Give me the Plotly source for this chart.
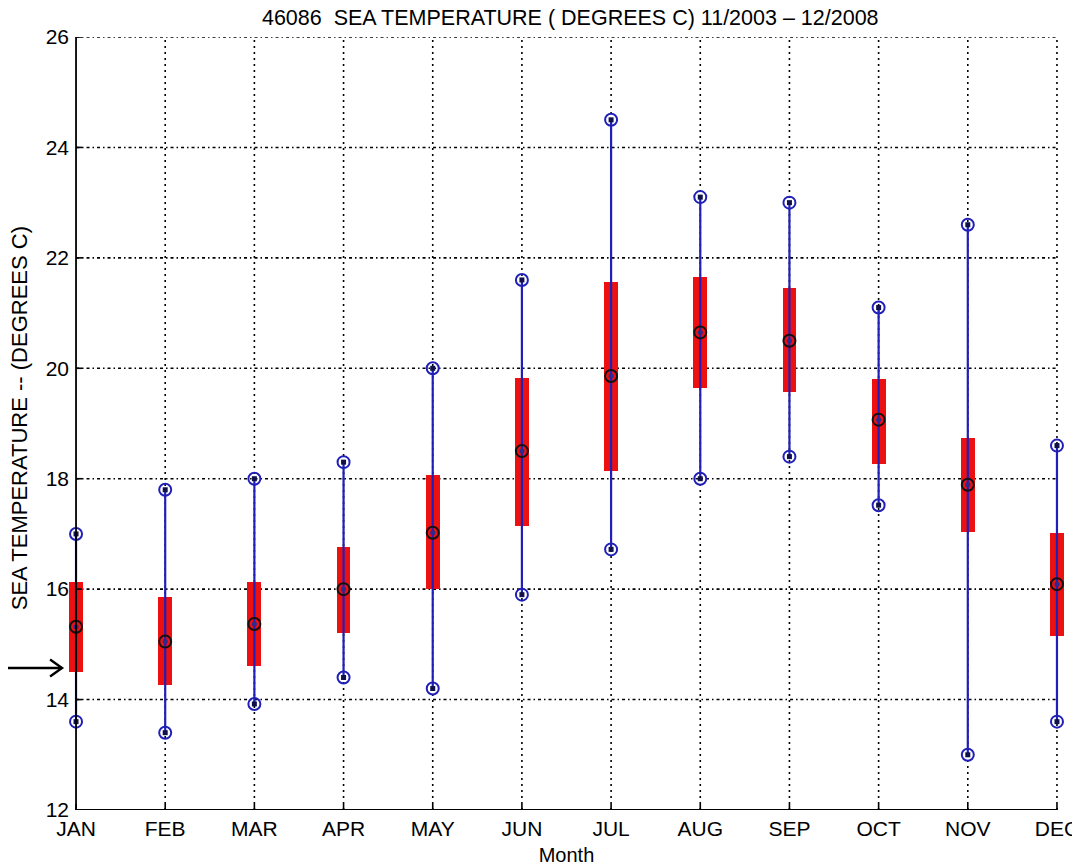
import plotly.graph_objects as go

months = ["JAN", "FEB", "MAR", "APR", "MAY", "JUN", "JUL", "AUG", "SEP", "OCT", "NOV", "DEC"]
max_vals = [17.0, 17.8, 18.0, 18.3, 20.0, 21.6, 24.5, 23.1, 23.0, 21.1, 22.6, 18.6]
q3_vals = [16.13, 15.86, 16.13, 16.76, 18.06, 19.82, 21.56, 21.65, 21.45, 19.81, 18.73, 17.01]
median_vals = [15.32, 15.05, 15.37, 16.0, 17.02, 18.5, 19.86, 20.65, 20.5, 19.07, 17.89, 16.09]
q1_vals = [14.5, 14.26, 14.6, 15.2, 16.0, 17.15, 18.14, 19.64, 19.57, 18.26, 17.04, 15.15]
min_vals = [13.6, 13.4, 13.92, 14.4, 14.2, 15.9, 16.72, 18.0, 18.4, 17.52, 13.0, 13.6]
y_ticks = [12, 14, 16, 18, 20, 22, 24, 26]

idx = list(range(len(months)))
BLUE = "#2020b8"
RED = "#ec1010"
FONT = "Liberation Sans, Arial, sans-serif"

fig = go.Figure()

# red boxes (q1..q3)
fig.add_trace(go.Bar(
    x=idx, y=[h - l for h, l in zip(q3_vals, q1_vals)], base=q1_vals,
    width=0.155, marker=dict(color=RED, line=dict(width=0)), showlegend=False,
    hoverinfo="skip"))

# blue whiskers min..max
wx, wy = [], []
for i, lo, hi in zip(idx, min_vals, max_vals):
    wx += [i, i, None]
    wy += [lo, hi, None]
fig.add_trace(go.Scatter(x=wx, y=wy, mode="lines",
                         line=dict(color=BLUE, width=2.2), showlegend=False,
                         hoverinfo="skip"))

# extreme markers
ex = idx + idx
ey = min_vals + max_vals
fig.add_trace(go.Scatter(x=ex, y=ey, mode="markers", cliponaxis=False,
                         marker=dict(symbol="circle-open", size=12, color=BLUE,
                                     line=dict(width=2, color=BLUE)),
                         showlegend=False))
fig.add_trace(go.Scatter(x=ex, y=ey, mode="markers", cliponaxis=False,
                         marker=dict(symbol="square", size=5, color="#10104a"),
                         showlegend=False))
# median markers
fig.add_trace(go.Scatter(x=idx, y=median_vals, mode="markers", cliponaxis=False,
                         marker=dict(symbol="circle-open", size=12, color="#111111",
                                     line=dict(width=2, color="#111111")),
                         showlegend=False))
fig.add_trace(go.Scatter(x=idx, y=median_vals, mode="markers", cliponaxis=False,
                         marker=dict(symbol="circle", size=5, color="#2a2a90"),
                         showlegend=False))

shapes = []
x0, x1 = idx[0], idx[-1]
y0, y1 = y_ticks[0], y_ticks[-1]
# horizontal grid (dash-dot)
for v in y_ticks[1:]:
    shapes.append(dict(type="line", xref="x", yref="y", x0=x0, x1=x1, y0=v, y1=v,
                       line=dict(color="black", width=1.6, dash="3px,3px,1.5px,3px"),
                       layer="below"))
# vertical grid (dotted)
for i in idx[1:]:
    shapes.append(dict(type="line", xref="x", yref="y", x0=i, x1=i, y0=y0, y1=y1,
                       line=dict(color="black", width=1.6, dash="2px,4px"),
                       layer="below"))
# solid axes
shapes.append(dict(type="line", xref="x", yref="y", x0=x0, x1=x0, y0=y0, y1=y1,
                   line=dict(color="black", width=1.8)))
shapes.append(dict(type="line", xref="x", yref="y", x0=x0, x1=x1, y0=y0, y1=y0,
                   line=dict(color="black", width=1.8)))
# tick marks (inward)
for v in y_ticks:
    shapes.append(dict(type="line", xref="x", yref="y", xsizemode="pixel", xanchor=x0,
                       x0=0, x1=6, y0=v, y1=v, line=dict(color="black", width=1.6)))
for i in idx:
    shapes.append(dict(type="line", xref="x", yref="y", ysizemode="pixel", yanchor=y0,
                       y0=0, y1=6, x0=i, x1=i, line=dict(color="black", width=1.6)))
# pointer arrow at left
shapes.append(dict(type="line", xref="paper", yref="paper", x0=-0.062, x1=-0.006,
                   y0=0.1837, y1=0.1837, line=dict(color="black", width=2.4)))
shapes.append(dict(type="path", xref="paper", yref="paper",
                   path="M -0.018 0.1947 L -0.006 0.1837 L -0.018 0.1727",
                   line=dict(color="black", width=2.4)))

# page body has an 8px margin, so the figure is sized to fit the 1080x866 window
fig.update_layout(
    width=1072, height=858,
    margin=dict(l=60, r=15, t=29, b=56, autoexpand=False),
    paper_bgcolor="white", plot_bgcolor="white",
    bargap=0,
    font=dict(family=FONT, size=21, color="black"),
    title=dict(text="46086  SEA TEMPERATURE ( DEGREES C) 11/2003 \u2013 12/2008",
               x=0.5245, xanchor="center", y=0.989, yanchor="middle",
               font=dict(family=FONT, size=21.5, color="black")),
    xaxis=dict(range=[-0.09, 11.09], tickvals=idx, ticktext=months,
               showgrid=False, zeroline=False, showline=False, ticks="",
               automargin=False,
               tickfont=dict(size=21), ticklabelstandoff=4,
               title=dict(text="Month", font=dict(size=20), standoff=8)),
    yaxis=dict(range=[12, 26], tickvals=y_ticks, showgrid=False, zeroline=False,
               automargin=False,
               showline=False, ticks="", tickfont=dict(size=21), ticklabelstandoff=-2),
    annotations=[dict(text="SEA TEMPERATURE -- (DEGREES C)", textangle=-90,
                      xref="paper", yref="paper", x=-0.049, y=0.507,
                      xanchor="center", yanchor="middle", showarrow=False,
                      font=dict(family=FONT, size=22, color="black"))],
    shapes=shapes,
)

fig.write_html("out.html")
